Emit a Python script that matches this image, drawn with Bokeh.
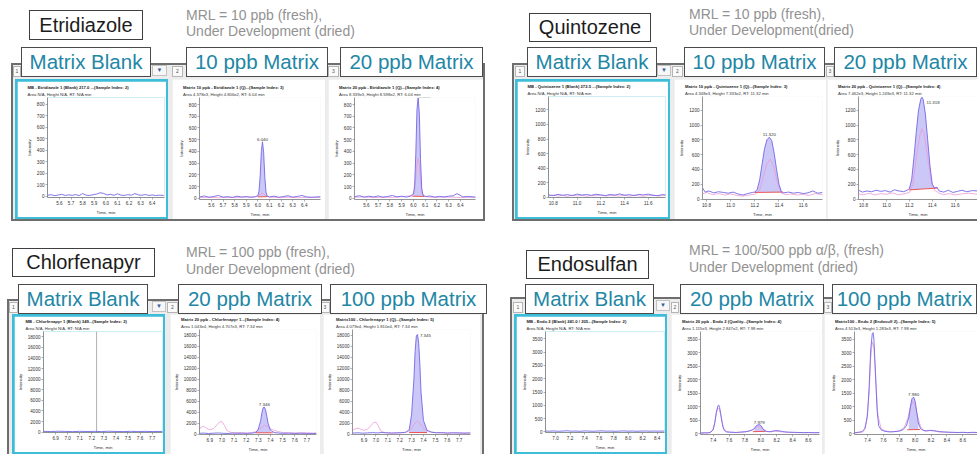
import numpy as np
from bokeh.plotting import figure
from bokeh.models import Range1d, FixedTicker, Label, Div, Spacer, Title
from bokeh.layouts import row, column
from bokeh.embed import file_html
from bokeh.resources import INLINE

# ============================ DATA ============================
# ---- Etridiazole ----
et_name = "Etridiazole"
et_mrl = ["MRL = 10 ppb (fresh),", "Under Development (dried)"]
et_labels = ["Matrix Blank", "10 ppb Matrix", "20 ppb Matrix"]
et_xticks = [5.6, 5.7, 5.8, 5.9, 6.0, 6.1, 6.2, 6.3, 6.4]
et_xlabels = ["5.6", "5.7", "5.8", "5.9", "6.0", "6.1", "6.2", "6.3", "6.4"]
et_yticks = [0, 100, 200, 300, 400, 500, 600, 700, 800]
et_ylabels = ["0", "100", "200", "300", "400", "500", "600", "700", "800"]
et_xr = [[5.497, 6.506], [5.497, 6.54], [5.498, 6.528]]
et_yr = [-10, 860]
et_titles = [
    ["MB - Etridiazole 1 (Blank) 217.0 ...(Sample Index: 2)", "Area N/A, Height N/A, RT: N/A min"],
    ["Matrix 10 ppb - Etridiazole 1 (Q)...(Sample Index: 3)", "Area 4.378e3, Height 4.806e2, RT: 6.04 min"],
    ["Matrix 20 ppb - Etridiazole 1 (Q)...(Sample Index: 4)", "Area 8.339e3, Height 8.598e2, RT: 6.04 min"],
]
et_mb_t = [5.50, 5.53, 5.56, 5.59, 5.62, 5.65, 5.68, 5.71, 5.74, 5.77, 5.80, 5.83, 5.86, 5.89, 5.92, 5.95, 5.98,
           6.01, 6.04, 6.07, 6.10, 6.13, 6.16, 6.19, 6.22, 6.25, 6.28, 6.31, 6.34, 6.37, 6.40, 6.43, 6.46, 6.50]
et_mb_b = [10, 14, 6, 12, 17, 8, 13, 9, 15, 7, 24, 10, 8, 14, 20, 31, 26,
           12, 18, 9, 22, 11, 8, 15, 10, 24, 13, 9, 16, 8, 12, 7, 10, 8]
et_10_t = [5.50, 5.54, 5.58, 5.62, 5.66, 5.70, 5.74, 5.78, 5.82, 5.86, 5.90, 5.94, 5.98, 6.00, 6.01, 6.02, 6.03,
           6.04, 6.05, 6.06, 6.07, 6.08, 6.10, 6.14, 6.18, 6.22, 6.26, 6.30, 6.34, 6.38, 6.42, 6.46, 6.54]
et_10_b = [12, 20, 9, 16, 24, 10, 14, 8, 18, 11, 15, 9, 14, 22, 60, 190, 400,
           482, 390, 180, 55, 20, 12, 18, 9, 15, 22, 10, 16, 24, 12, 9, 14]
et_10_pt = [5.50, 5.58, 5.66, 5.74, 5.82, 5.90, 5.98, 6.01, 6.03, 6.04, 6.05, 6.07, 6.10, 6.18, 6.26, 6.34, 6.42, 6.54]
et_10_p = [6, 9, 5, 8, 6, 10, 12, 25, 40, 45, 38, 20, 10, 7, 9, 5, 8, 6]
et_10_int = [[6.00, 6.08], [12, 14]]
et_10_peak = [6.040, 482, "6.040"]
et_20_t = [5.50, 5.54, 5.58, 5.62, 5.66, 5.70, 5.74, 5.78, 5.82, 5.86, 5.90, 5.94, 5.98, 6.00, 6.01, 6.02, 6.03,
           6.04, 6.05, 6.06, 6.07, 6.08, 6.10, 6.14, 6.18, 6.22, 6.26, 6.30, 6.34, 6.37, 6.39, 6.42, 6.46, 6.53]
et_20_b = [15, 22, 10, 18, 12, 20, 9, 16, 24, 12, 18, 10, 20, 35, 110, 380, 760,
           858, 720, 330, 90, 28, 14, 20, 10, 16, 12, 18, 22, 40, 30, 12, 16, 10]
et_20_pt = [5.50, 5.58, 5.66, 5.74, 5.82, 5.90, 5.96, 5.99, 6.01, 6.02, 6.03, 6.04, 6.05, 6.06, 6.07, 6.09, 6.12,
            6.20, 6.30, 6.40, 6.53]
et_20_p = [8, 12, 6, 10, 8, 14, 20, 30, 70, 180, 310, 340, 290, 150, 50, 22, 12, 9, 11, 7, 9]
et_20_int = [[5.99, 6.09], [18, 16]]
et_20_peak = [6.050, 845, "6.039"]

# ---- Quintozene ----
qz_name = "Quintozene"
qz_mrl = ["MRL = 10 ppb (fresh),", "Under Development(dried)"]
qz_labels = ["Matrix Blank", "10 ppb Matrix", "20 ppb Matrix"]
qz_xticks = [10.8, 11.0, 11.2, 11.4, 11.6]
qz_xlabels = ["10.8", "11.0", "11.2", "11.4", "11.6"]
qz_yticks = [0, 200, 400, 600, 800, 1000, 1200]
qz_ylabels = ["0", "200", "400", "600", "800", "1000", "1200"]
qz_xr = [[10.76, 11.745], [10.767, 11.76], [10.756, 11.795]]
qz_yr = [-5, 1385]
qz_titles = [
    ["MB - Quintozene 1 (Blank) 272.5 ...(Sample Index: 2)", "Area N/A, Height N/A, RT: N/A min"],
    ["Matrix 10 ppb - Quintozene 1 (Q)...(Sample Index: 3)", "Area 4.348e3, Height 7.333e2, RT: 11.32 min"],
    ["Matrix 20 ppb - Quintozene 1 (Q)...(Sample Index: 4)", "Area 7.462e3, Height 1.249e3, RT: 11.32 min"],
]
qz_mb_t = [10.76, 10.80, 10.84, 10.88, 10.92, 10.96, 11.00, 11.04, 11.08, 11.12, 11.16, 11.20, 11.24,
           11.28, 11.32, 11.36, 11.40, 11.44, 11.48, 11.52, 11.56, 11.60, 11.64, 11.68, 11.72, 11.745]
qz_mb_b = [30, 22, 38, 26, 34, 20, 42, 28, 36, 24, 40, 30, 22, 36, 28, 44, 26, 34, 22, 38, 30, 42, 24, 20, 36, 30]
qz_mb_p = [18, 28, 14, 24, 10, 30, 16, 26, 12, 22, 18, 30, 14, 24, 20, 16, 28, 12, 26, 18, 14, 22, 30, 16, 20, 24]
qz_10_t = [10.767, 10.79, 10.82, 10.86, 10.90, 10.94, 10.98, 11.02, 11.06, 11.10, 11.14, 11.18, 11.20, 11.22,
           11.24, 11.26, 11.28, 11.30, 11.32, 11.34, 11.36, 11.38, 11.40, 11.42, 11.44, 11.48, 11.52, 11.56,
           11.60, 11.64, 11.68, 11.70, 11.72, 11.76]
qz_10_b = [150, 95, 110, 85, 100, 90, 80, 95, 70, 55, 75, 90, 95, 130,
           260, 470, 680, 800, 835, 790, 620, 400, 200, 100, 85, 95, 80, 90,
           75, 85, 110, 95, 80, 90]
qz_10_pt = [10.767, 10.80, 10.85, 10.90, 10.95, 11.00, 11.05, 11.10, 11.15, 11.20, 11.24, 11.27, 11.30, 11.33,
            11.36, 11.39, 11.42, 11.46, 11.50, 11.55, 11.60, 11.65, 11.70, 11.76]
qz_10_p = [70, 90, 60, 75, 55, 70, 50, 40, 55, 65, 120, 300, 480, 540, 420, 200, 80, 60, 70, 55, 65, 50, 75, 60]
qz_10_int = [[11.20, 11.43], [90, 95]]
qz_10_peak = [11.32, 835, "11.320"]
qz_20_t = [10.756, 10.79, 10.83, 10.87, 10.91, 10.95, 10.99, 11.03, 11.07, 11.11, 11.15, 11.18, 11.20, 11.22,
           11.24, 11.26, 11.28, 11.30, 11.31, 11.32, 11.34, 11.36, 11.38, 11.40, 11.42, 11.44, 11.46, 11.50,
           11.54, 11.58, 11.62, 11.66, 11.70, 11.75, 11.795]
qz_20_b = [120, 95, 110, 100, 120, 105, 115, 95, 125, 110, 100, 120, 140, 260,
           560, 900, 1200, 1350, 1375, 1350, 1150, 800, 450, 200, 150, 160, 110, 95,
           120, 90, 105, 120, 100, 115, 110]
qz_20_pt = [10.756, 10.80, 10.85, 10.90, 10.95, 11.00, 11.05, 11.10, 11.15, 11.20, 11.23, 11.26, 11.29, 11.31,
            11.33, 11.36, 11.39, 11.42, 11.46, 11.50, 11.55, 11.60, 11.65, 11.72, 11.795]
qz_20_p = [70, 60, 80, 55, 75, 65, 85, 60, 70, 90, 200, 550, 850, 950, 880, 560, 250, 120, 80, 60, 75, 55, 70, 80, 65]
qz_20_int = [[11.20, 11.45], [125, 150]]
qz_20_peak = [11.35, 1270, "11.318"]

# ---- Chlorfenapyr ----
cf_name = "Chlorfenapyr"
cf_mrl = ["MRL = 100 ppb (fresh),", "Under Development (dried)"]
cf_labels = ["Matrix Blank", "20 ppb Matrix", "100 ppb Matrix"]
cf_xticks = [6.9, 7.0, 7.1, 7.2, 7.3, 7.4, 7.5, 7.6, 7.7]
cf_xlabels = ["6.9", "7.0", "7.1", "7.2", "7.3", "7.4", "7.5", "7.6", "7.7"]
cf_yticks = [0, 2000, 4000, 6000, 8000, 10000, 12000, 14000, 16000, 18000]
cf_ylabels = ["0", "2000", "4000", "6000", "8000", "10000", "12000", "14000", "16000", "18000"]
cf_xr = [[6.80, 7.786], [6.815, 7.78], [6.803, 7.796]]
cf_yr = [-60, 19000]
cf_titles = [
    ["MB - Chlorfenapyr 1 (Blank) 349...(Sample Index: 2)", "Area N/A, Height N/A, RT: N/A min"],
    ["Matrix 20 ppb - Chlorfenapyr 1...(Sample Index: 4)", "Area 1.043e4, Height 4.707e3, RT: 7.34 min"],
    ["Matrix100 - Chlorfenapyr 1 (Q)...(Sample Index: 5)", "Area 4.079e4, Height 1.810e4, RT: 7.34 min"],
]
cf_mb_t = [6.80, 6.86, 6.92, 6.98, 7.04, 7.10, 7.16, 7.22, 7.28, 7.34, 7.40, 7.46, 7.52, 7.58, 7.64, 7.70, 7.786]
cf_mb_b = [150, 120, 180, 140, 110, 160, 130, 150, 120, 170, 140, 110, 160, 130, 150, 120, 140]
cf_mb_marker = 7.24
cf_20_t = [6.815, 6.85, 6.89, 6.93, 6.97, 7.01, 7.05, 7.09, 7.13, 7.17, 7.21, 7.25, 7.28, 7.30, 7.32, 7.33,
           7.34, 7.35, 7.36, 7.37, 7.38, 7.40, 7.43, 7.47, 7.51, 7.55, 7.60, 7.65, 7.70, 7.75, 7.78]
cf_20_b = [150, 200, 120, 180, 220, 160, 130, 190, 150, 170, 140, 200, 300, 900, 2500, 3900,
           4800, 4900, 4400, 3300, 2000, 700, 300, 200, 160, 190, 140, 170, 150, 130, 160]
cf_20_pt = [6.815, 6.83, 6.85, 6.87, 6.90, 6.93, 6.96, 6.98, 7.00, 7.02, 7.04, 7.07, 7.10, 7.15, 7.20,
            7.25, 7.29, 7.32, 7.35, 7.37, 7.40, 7.43, 7.46, 7.50, 7.55, 7.60, 7.65, 7.70, 7.78]
cf_20_p = [900, 1300, 1440, 1100, 800, 1000, 1700, 2200, 2300, 1600, 700, 350, 250, 300, 200,
           300, 500, 1100, 1600, 1500, 1000, 700, 500, 300, 250, 200, 250, 200, 180]
cf_20_int = [[7.28, 7.42], [250, 250]]
cf_20_peak = [7.35, 4900, "7.346"]
cf_100_t = [6.803, 6.85, 6.89, 6.93, 6.97, 7.01, 7.05, 7.09, 7.13, 7.17, 7.21, 7.25, 7.28, 7.30, 7.32, 7.33,
            7.34, 7.35, 7.36, 7.37, 7.38, 7.40, 7.43, 7.47, 7.51, 7.55, 7.60, 7.65, 7.70, 7.75, 7.796]
cf_100_b = [200, 250, 180, 230, 280, 220, 300, 250, 200, 240, 260, 350, 800, 3500, 10000, 15000,
            17800, 18100, 16500, 12500, 7500, 2500, 700, 350, 250, 280, 200, 240, 220, 190, 230]
cf_100_pt = [6.803, 6.83, 6.85, 6.87, 6.90, 6.93, 6.96, 6.98, 7.00, 7.02, 7.04, 7.07, 7.10, 7.15, 7.20,
             7.25, 7.29, 7.32, 7.35, 7.38, 7.41, 7.45, 7.50, 7.55, 7.60, 7.65, 7.70, 7.796]
cf_100_p = [700, 1000, 1100, 900, 700, 900, 1600, 2100, 2200, 1500, 600, 300, 250, 200, 250,
            300, 700, 1800, 2400, 1700, 800, 400, 300, 250, 200, 250, 200, 180]
cf_100_int = [[7.28, 7.43], [300, 300]]
cf_100_peak = [7.37, 17400, "7.345"]

# ---- Endosulfan ----
en_name = "Endosulfan"
en_mrl = ["MRL = 100/500 ppb \u03b1/\u03b2, (fresh)", "Under Development (dried)"]
en_labels = ["Matrix Blank", "20 ppb Matrix", "100 ppb Matrix"]
en_mb_xticks = [7.0, 7.2, 7.4, 7.6, 7.8, 8.0, 8.2, 8.4]
en_mb_xlabels = ["7.0", "7.2", "7.4", "7.6", "7.8", "8.0", "8.2", "8.4"]
en_xticks = [7.4, 7.6, 7.8, 8.0, 8.2, 8.4, 8.6]
en_xlabels = ["7.4", "7.6", "7.8", "8.0", "8.2", "8.4", "8.6"]
en_yticks = [0, 500, 1000, 1500, 2000, 2500, 3000, 3500]
en_ylabels = ["0", "500", "1000", "1500", "2000", "2500", "3000", "3500"]
en_xr = [[6.862, 8.50], [7.24, 8.739], [7.236, 8.785]]
en_yr = [-25, 3780]
en_titles = [
    ["MB - Endo 2 (Blank) 241.0 / 205...(Sample Index: 2)", "Area N/A, Height N/A, RT: N/A min"],
    ["Matrix 20 ppb - Endo 2 (Quality...(Sample Index: 4)", "Area 1.115e3, Height 2.847e2, RT: 7.98 min"],
    ["Matrix100 - Endo 2 (Endosulf 2)...(Sample Index: 5)", "Area 4.513e3, Height 1.283e3, RT: 7.98 min"],
]
en_mb_t = [6.862, 6.92, 6.98, 7.04, 7.10, 7.16, 7.22, 7.28, 7.34, 7.40, 7.46, 7.52, 7.58, 7.64, 7.70, 7.76,
           7.82, 7.88, 7.94, 8.00, 8.06, 8.12, 8.18, 8.24, 8.30, 8.36, 8.42, 8.50]
en_mb_b = [30, 25, 35, 20, 30, 40, 25, 30, 20, 35, 28, 22, 30, 38, 25, 30, 20, 28, 35, 25, 30, 22, 28, 32, 24, 30, 26, 30]
en_20_t = [7.24, 7.29, 7.33, 7.37, 7.40, 7.42, 7.44, 7.46, 7.47, 7.48, 7.50, 7.52, 7.54, 7.57, 7.61, 7.65,
           7.69, 7.73, 7.77, 7.81, 7.85, 7.89, 7.92, 7.94, 7.96, 7.98, 8.00, 8.02, 8.04, 8.07, 8.11, 8.15,
           8.19, 8.23, 8.27, 8.31, 8.36, 8.42, 8.48, 8.54, 8.60, 8.66, 8.739]
en_20_b = [30, 40, 35, 60, 150, 400, 800, 1040, 1060, 980, 650, 280, 120, 70, 60, 55,
           50, 60, 70, 80, 100, 140, 200, 290, 330, 340, 310, 220, 140, 90, 80, 100,
           120, 110, 90, 70, 60, 55, 50, 45, 50, 40, 45]
en_20_pt = [7.24, 7.30, 7.35, 7.39, 7.42, 7.44, 7.46, 7.48, 7.50, 7.53, 7.57, 7.62, 7.68, 7.74, 7.80, 7.86,
            7.91, 7.94, 7.97, 8.00, 8.03, 8.07, 8.12, 8.18, 8.24, 8.30, 8.38, 8.46, 8.54, 8.62, 8.739]
en_20_p = [20, 30, 40, 120, 420, 780, 960, 900, 600, 220, 80, 60, 50, 55, 70, 110,
           170, 240, 280, 250, 170, 90, 70, 95, 80, 60, 50, 45, 40, 45, 40]
en_20_int = [[7.90, 8.06], [80, 90]]
en_20_peak = [7.98, 340, "7.979"]
en_100_t = [7.236, 7.29, 7.33, 7.37, 7.40, 7.42, 7.44, 7.46, 7.47, 7.48, 7.50, 7.52, 7.54, 7.57, 7.61, 7.65,
            7.69, 7.73, 7.77, 7.81, 7.85, 7.89, 7.92, 7.94, 7.96, 7.98, 8.00, 8.02, 8.04, 8.07, 8.11, 8.15,
            8.19, 8.23, 8.27, 8.31, 8.36, 8.42, 8.48, 8.54, 8.60, 8.66, 8.72, 8.785]
en_100_b = [40, 60, 80, 200, 700, 1700, 3100, 3700, 3740, 3500, 2300, 900, 300, 150, 100, 80,
            70, 80, 90, 110, 160, 300, 600, 1000, 1300, 1360, 1200, 800, 400, 180, 120, 110,
            130, 120, 100, 80, 70, 60, 55, 50, 55, 45, 55, 50]
en_100_pt = [7.236, 7.30, 7.35, 7.39, 7.42, 7.44, 7.46, 7.48, 7.50, 7.53, 7.57, 7.62, 7.68, 7.74, 7.80, 7.86,
             7.91, 7.94, 7.97, 8.00, 8.03, 8.07, 8.12, 8.18, 8.24, 8.30, 8.38, 8.46, 8.54, 8.62, 8.70, 8.785]
en_100_p = [30, 50, 80, 500, 1500, 2800, 3400, 3200, 2100, 700, 200, 110, 80, 80, 110, 220,
            600, 1000, 1200, 1050, 650, 250, 100, 120, 100, 70, 60, 50, 45, 50, 40, 45]
en_100_int = [[7.90, 8.06], [150, 160]]
en_100_peak = [7.98, 1360, "7.980"]

tooltip_text = "2: Matrix 10 ppb"

# ============================ STYLE ============================
FONTNAME = "Liberation Sans"
CSSFONT = "'Liberation Sans', Arial, sans-serif"
TEAL = "#2286a5"
BOXLINE = "#4a4a4a"
MRLC = "#929292"
NAMEC = "#1c1c1c"
FRAME = "#6e6e6e"
FRAME_BG = "#ececec"
CYAN = "#3dbdd8"
BLUE = "#7268e6"
PINK = "#ee9ad6"
FILL = "#a9a2f2"
RED = "#ee4444"
DOT = "#1a1ad0"
AXIS = "#7a7a7a"


def spec(xr, yr, xt, xl, yt, yl, titles, blue, pink=None, integ=None, peak=None, marker=None, tooltip=False):
    return dict(xr=xr, yr=yr, xt=xt, xl=xl, yt=yt, yl=yl, t1=titles[0], t2=titles[1], blue=blue,
                pink=pink, integ=integ, peak=peak, marker=marker, tooltip=tooltip)


def make_panel(s, w, h, bl, br, bt, bb, cyan=False, peak_align="center", thumb=None):
    dot_x, dot_y, txt_x = 6.5, 7, 10.5
    if cyan:
        w, h, bl, br, bt, bb = w - 4, h - 4, bl - 2, max(br - 2, 0), bt - 2, bb - 2
        dot_x, dot_y, txt_x = 6, 6.5, 10
    p = figure(width=w, height=h, x_range=Range1d(*s["xr"]), y_range=Range1d(*s["yr"]),
               output_backend="svg", toolbar_location=None, title=None,
               min_border_left=bl, min_border_right=br, min_border_top=bt, min_border_bottom=bb,
               background_fill_color="white", border_fill_color="white", outline_line_color=None)
    p.xgrid.visible = False
    p.ygrid.visible = False
    for ax in (p.xaxis[0], p.yaxis[0]):
        ax.axis_line_color = AXIS
        ax.axis_line_width = 0.8
        ax.major_tick_line_color = AXIS
        ax.major_tick_line_width = 0.6
        ax.major_tick_out = 2
        ax.major_tick_in = 0
        ax.minor_tick_line_color = None
        ax.major_label_text_font_size = "4.6px"
        ax.major_label_text_font = FONTNAME
        ax.major_label_text_color = "#333333"
        ax.axis_label_text_font_size = "4.4px"
        ax.axis_label_text_font_style = "normal"
        ax.axis_label_text_font = FONTNAME
        ax.axis_label_text_color = "#333333"
        ax.major_label_standoff = 1
        ax.axis_label_standoff = 2
    p.xaxis.ticker = FixedTicker(ticks=s["xt"])
    p.xaxis.major_label_overrides = dict(zip(s["xt"], s["xl"]))
    p.yaxis.ticker = FixedTicker(ticks=s["yt"])
    p.yaxis.major_label_overrides = dict(zip(s["yt"], s["yl"]))
    p.xaxis.axis_label = "Time, min"
    p.yaxis.axis_label = "Intensity"

    bt_arr, by_arr = s["blue"]
    if s["marker"] is not None:
        p.segment(x0=[s["marker"]], y0=[s["yr"][0]], x1=[s["marker"]], y1=[s["yr"][1]],
                  line_color="#9a9a9a", line_width=0.8)
    if s["integ"] is not None:
        ix, iy = s["integ"]
        t = np.array(bt_arr, dtype=float)
        y = np.array(by_arr, dtype=float)
        m = (t >= ix[0]) & (t <= ix[1])
        base = np.interp(t[m], ix, iy)
        p.varea(x=t[m], y1=base, y2=y[m], fill_color=FILL, fill_alpha=0.6)
    if s["pink"] is not None:
        p.line(s["pink"][0], s["pink"][1], line_color=PINK, line_width=0.8)
    if s["integ"] is not None:
        p.line(s["integ"][0], s["integ"][1], line_color=RED, line_width=0.9)
    p.line(bt_arr, by_arr, line_color=BLUE, line_width=0.9)

    if s["peak"] is not None:
        px, py, ptxt = s["peak"]
        p.add_layout(Label(x=px, y=py, text=ptxt, text_font_size="4.4px", text_font=FONTNAME,
                           text_color="#333333", text_align=peak_align, text_baseline="bottom",
                           y_offset=1))

    fh = h - bt - bb
    fw = w - bl - br
    p.add_layout(Title(text=s["t2"], text_font_size="4.2px", text_font_style="normal", text_font=FONTNAME,
                       text_color="#333333", standoff=1, offset=-(bl - txt_x), align="left"), "above")
    p.add_layout(Title(text=s["t1"], text_font_size="4.2px", text_font_style="bold", text_font=FONTNAME,
                       text_color="#222222", standoff=0, offset=-(bl - txt_x), align="left"), "above")
    p.add_layout(Label(x=dot_x - bl, y=fh + bt - dot_y, x_units="screen", y_units="screen", text="\u25cf",
                       text_color=DOT, text_font_size="5px", text_font=FONTNAME,
                       text_align="center", text_baseline="middle"))
    if s["tooltip"]:
        p.add_layout(Label(x=52 - bl, y=fh + bt - 12, x_units="screen", y_units="screen", text=tooltip_text,
                           text_font_size="4px", text_font=FONTNAME, text_color="#7a8fa8",
                           background_fill_color="#dde9f4", border_line_color="#a8bfd6",
                           text_baseline="bottom", padding=2))
    if thumb is not None:
        ty0, ty1 = thumb
        p.add_layout(Label(x=fw + br - 4, y=fh + bt - ty1, x_units="screen", y_units="screen", text=" ",
                           text_font_size="2px", background_fill_color="#9a9a9a",
                           border_line_color="#8a8a8a", padding=[1, 1, ty1 - ty0, 0]))
    if cyan:
        inner = row(Spacer(width=2, height=h), p, Spacer(width=2, height=h), width=w + 4, height=h)
        return column(Spacer(width=w + 4, height=2), inner, Spacer(width=w + 4, height=2),
                      width=w + 4, height=h + 4, styles={"background-color": CYAN})
    return p


def header(W, H, name, nb, mrl, mpos, mlh, frame, labels, tabs, drop):
    x0, fy, x1, rb = frame
    x1 = min(x1, W)
    out = [f'<div style="position:relative;width:{W}px;height:{H}px;overflow:hidden;font-family:{CSSFONT};">']
    rbs = f"border-right:2px solid {FRAME};" if rb else ""
    out.append(f'<div style="position:absolute;left:{x0}px;top:{fy}px;width:{x1 - x0}px;height:{H - fy}px;'
               f'background:{FRAME_BG};border-top:2px solid {FRAME};border-left:2px solid {FRAME};{rbs}'
               f'box-sizing:border-box;"></div>')
    for (tx, ty, tw, th, tt) in tabs:
        out.append(f'<div style="position:absolute;left:{tx}px;top:{ty}px;width:{tw}px;height:{th}px;'
                   f'background:#fafafa;border:1px solid #b5b5b5;box-sizing:border-box;font-size:5px;'
                   f'line-height:{th - 2}px;color:#555;text-align:center;">{tt}</div>')
    dx, dy, dw, dh = drop
    out.append(f'<div style="position:absolute;left:{dx}px;top:{dy}px;width:{dw}px;height:{dh}px;'
               f'background:#f7f7f7;border:1px solid #c2c2c2;box-sizing:border-box;font-size:6px;'
               f'line-height:{dh - 2}px;text-align:center;color:#2f5f9e;">&#9660;</div>')
    nx, ny, nw, nh = nb
    out.append(f'<div style="position:absolute;left:{nx}px;top:{ny}px;width:{nw}px;height:{nh}px;'
               f'border:1.5px solid #3f3f3f;background:#ffffff;box-sizing:border-box;display:flex;'
               f'align-items:center;justify-content:center;font-size:20px;color:{NAMEC};white-space:nowrap;">{name}</div>')
    mx, my = mpos
    out.append(f'<div style="position:absolute;left:{mx}px;top:{my}px;font-size:14px;line-height:{mlh}px;'
               f'color:{MRLC};white-space:nowrap;">{mrl[0]}<br>{mrl[1]}</div>')
    for (lx, ly, lw, lh, lt) in labels:
        lw = min(lw, W - lx)
        out.append(f'<div style="position:absolute;left:{lx}px;top:{ly}px;width:{lw}px;height:{lh}px;'
                   f'border:1.5px solid {BOXLINE};background:#ffffff;box-sizing:border-box;display:flex;'
                   f'align-items:center;justify-content:center;font-size:20.5px;color:{TEAL};'
                   f'white-space:nowrap;">{lt}</div>')
    out.append('</div>')
    return Div(text="".join(out), width=W, height=H, margin=0, styles={"overflow": "hidden"})


def frame_row(children, width, height, sides, bottom):
    shadows = []
    if "l" in sides:
        shadows.append(f"inset 2px 0 0 {FRAME}")
    if "r" in sides:
        shadows.append(f"inset -2px 0 0 {FRAME}")
    if bottom:
        shadows.append(f"inset 0 -2px 0 {FRAME}")
    st = {"background-color": FRAME_BG, "box-shadow": ", ".join(shadows), "overflow": "hidden"}
    r = row(*children, width=width, height=height)
    if bottom:
        return column(r, Spacer(height=2, width=width), width=width, height=height + 2, styles=st)
    return column(r, width=width, height=height, styles=st)


def group(head, body, W, H):
    return column(head, body, width=W, height=H, styles={"overflow": "hidden"})


# ============================ PANELS ============================
et_specs = [
    spec(et_xr[0], et_yr, et_xticks, et_xlabels, et_yticks, et_ylabels, et_titles[0], [et_mb_t, et_mb_b]),
    spec(et_xr[1], et_yr, et_xticks, et_xlabels, et_yticks, et_ylabels, et_titles[1], [et_10_t, et_10_b],
         pink=[et_10_pt, et_10_p], integ=et_10_int, peak=et_10_peak, tooltip=True),
    spec(et_xr[2], et_yr, et_xticks, et_xlabels, et_yticks, et_ylabels, et_titles[2], [et_20_t, et_20_b],
         pink=[et_20_pt, et_20_p], integ=et_20_int, peak=et_20_peak),
]
qz_specs = [
    spec(qz_xr[0], qz_yr, qz_xticks, qz_xlabels, qz_yticks, qz_ylabels, qz_titles[0], [qz_mb_t, qz_mb_b],
         pink=[qz_mb_t, qz_mb_p]),
    spec(qz_xr[1], qz_yr, qz_xticks, qz_xlabels, qz_yticks, qz_ylabels, qz_titles[1], [qz_10_t, qz_10_b],
         pink=[qz_10_pt, qz_10_p], integ=qz_10_int, peak=qz_10_peak),
    spec(qz_xr[2], qz_yr, qz_xticks, qz_xlabels, qz_yticks, qz_ylabels, qz_titles[2], [qz_20_t, qz_20_b],
         pink=[qz_20_pt, qz_20_p], integ=qz_20_int, peak=qz_20_peak),
]
cf_specs = [
    spec(cf_xr[0], cf_yr, cf_xticks, cf_xlabels, cf_yticks, cf_ylabels, cf_titles[0], [cf_mb_t, cf_mb_b],
         marker=cf_mb_marker),
    spec(cf_xr[1], cf_yr, cf_xticks, cf_xlabels, cf_yticks, cf_ylabels, cf_titles[1], [cf_20_t, cf_20_b],
         pink=[cf_20_pt, cf_20_p], integ=cf_20_int, peak=cf_20_peak),
    spec(cf_xr[2], cf_yr, cf_xticks, cf_xlabels, cf_yticks, cf_ylabels, cf_titles[2], [cf_100_t, cf_100_b],
         pink=[cf_100_pt, cf_100_p], integ=cf_100_int, peak=cf_100_peak),
]
en_specs = [
    spec(en_xr[0], en_yr, en_mb_xticks, en_mb_xlabels, en_yticks, en_ylabels, en_titles[0], [en_mb_t, en_mb_b]),
    spec(en_xr[1], en_yr, en_xticks, en_xlabels, en_yticks, en_ylabels, en_titles[1], [en_20_t, en_20_b],
         pink=[en_20_pt, en_20_p], integ=en_20_int, peak=en_20_peak),
    spec(en_xr[2], en_yr, en_xticks, en_xlabels, en_yticks, en_ylabels, en_titles[2], [en_100_t, en_100_b],
         pink=[en_100_pt, en_100_p], integ=en_100_int, peak=en_100_peak),
]

W_ALL, H_ALL = 977, 454
W_L, W_R = 488, 489
H_T, H_B = 236, 218

# ---- top-left: Etridiazole ----
tl_head = header(W_L, 79, et_name, (29, 10, 114, 30), et_mrl, (186, 7), 16, (11, 63, 485, True),
                 [(21, 47, 130, 30, et_labels[0]), (186, 47, 142, 30, et_labels[1]), (340, 47, 143, 30, et_labels[2])],
                 [(13, 66, 8, 11, "1"), (172, 66, 11, 11, "2"), (328, 66, 11, 11, "3")], (152, 65, 15, 11))
tl_p = [make_panel(et_specs[0], 153, 140, 32, 4, 18, 17, cyan=True),
        make_panel(et_specs[1], 153, 140, 27, 5, 18, 17),
        make_panel(et_specs[2], 155, 140, 26, 8, 18, 17, peak_align="left", thumb=(26, 50))]
tl_body = row(Spacer(width=11, height=142),
              frame_row([Spacer(width=4, height=140), tl_p[0], Spacer(width=4, height=140), tl_p[1],
                         Spacer(width=3, height=140), tl_p[2], Spacer(width=2, height=140)], 474, 140, "lr", True),
              Spacer(width=3, height=142), width=W_L, height=142)
tl = group(tl_head, tl_body, W_L, H_T)

# ---- top-right: Quintozene ----
tr_head = header(W_R, 79, qz_name, (41, 13, 122, 29), qz_mrl, (201, 6), 16, (24, 63, 600, False),
                 [(39, 47, 130, 30, qz_labels[0]), (196, 47, 141, 30, qz_labels[1]), (346, 47, 143, 30, qz_labels[2])],
                 [(27, 66, 10, 11, "1"), (184, 66, 11, 11, "2"), (338, 66, 8, 11, "3")], (169, 65, 14, 11))
tr_p = [make_panel(qz_specs[0], 155, 140, 33, 5, 17, 18, cyan=True),
        make_panel(qz_specs[1], 152, 140, 28, 4, 17, 18),
        make_panel(qz_specs[2], 150, 140, 31, 0, 17, 18, peak_align="left")]
tr_body = row(Spacer(width=24, height=142),
              frame_row([Spacer(width=3, height=140), tr_p[0], Spacer(width=4, height=140), tr_p[1],
                         Spacer(width=1, height=140), tr_p[2]], 465, 140, "l", True), width=W_R, height=142)
tr = group(tr_head, tr_body, W_R, H_T)

# ---- bottom-left: Chlorfenapyr ----
bl_head = header(W_L, 78, cf_name, (12, 12, 143, 29), cf_mrl, (186, 8), 17, (7, 63, 484, True),
                 [(18, 48, 130, 30, cf_labels[0]), (178, 48, 144, 30, cf_labels[1]), (330, 48, 157, 30, cf_labels[2])],
                 [(9, 66, 9, 11, "1"), (167, 66, 11, 11, "2"), (320, 66, 10, 11, "3")], (152, 65, 14, 11))
bl_p = [make_panel(cf_specs[0], 153, 140, 30, 3, 13, 17, cyan=True),
        make_panel(cf_specs[1], 150, 140, 29, 4, 14, 17),
        make_panel(cf_specs[2], 157, 140, 27, 10, 14, 17, peak_align="left", thumb=(4, 22))]
bl_body = row(Spacer(width=7, height=140),
              frame_row([Spacer(width=5, height=140), bl_p[0], Spacer(width=5, height=140), bl_p[1],
                         Spacer(width=3, height=140), bl_p[2], Spacer(width=4, height=140)], 477, 140, "lr", False),
              Spacer(width=4, height=140), width=W_L, height=140)
bl = group(bl_head, bl_body, W_L, H_B)

# ---- bottom-right: Endosulfan ----
br_head = header(W_R, 78, en_name, (38, 14, 123, 29), en_mrl, (201, 6), 17, (22, 61, 600, False),
                 [(37, 48, 129, 30, en_labels[0]), (192, 48, 144, 30, en_labels[1]), (344, 48, 145, 30, en_labels[2])],
                 [(25, 66, 10, 11, "1"), (183, 66, 8, 11, "2"), (336, 66, 8, 11, "3")], (168, 64, 14, 11))
br_p = [make_panel(en_specs[0], 153, 140, 31, 3, 17, 18, cyan=True),
        make_panel(en_specs[1], 151, 140, 29, 3, 17, 18),
        make_panel(en_specs[2], 153, 140, 30, 0, 17, 18)]
br_body = row(Spacer(width=22, height=140),
              frame_row([Spacer(width=4, height=140), br_p[0], Spacer(width=4, height=140), br_p[1],
                         Spacer(width=2, height=140), br_p[2]], 467, 140, "l", False), width=W_R, height=140)
br = group(br_head, br_body, W_R, H_B)

layout = column(row(tl, tr, width=W_ALL, height=H_T), row(bl, br, width=W_ALL, height=H_B),
                width=W_ALL, height=H_ALL)

open("out.html", "w").write(file_html(layout, INLINE))
